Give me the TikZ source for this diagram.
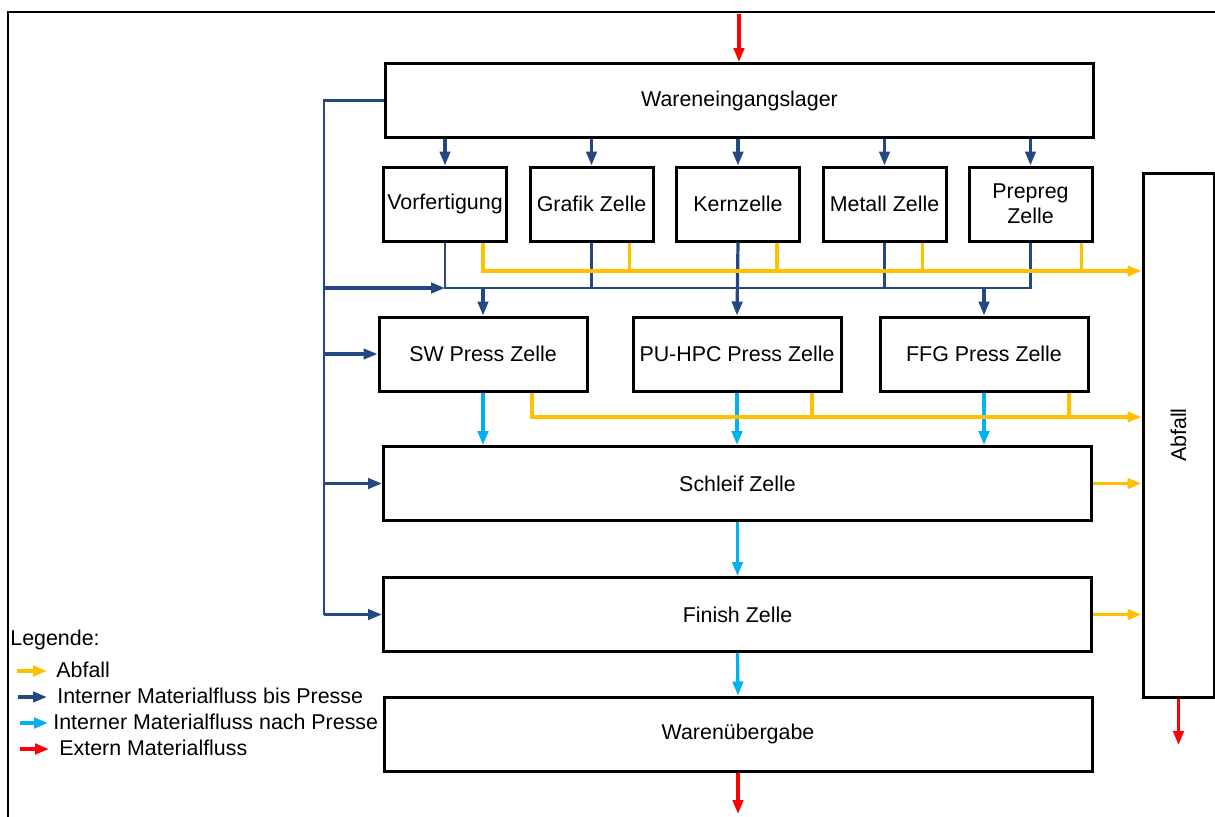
\documentclass[tikz,border=0pt]{standalone}
\usepackage{fontspec}
\setmainfont{Liberation Sans}
\usetikzlibrary{arrows.meta,calc}

\definecolor{abfallgelb}{RGB}{255,192,0}
\definecolor{dunkelblau}{RGB}{35,72,130}
\definecolor{hellblau}{RGB}{0,176,240}
\definecolor{extrot}{RGB}{255,0,0}

\begin{document}
\begin{tikzpicture}[x=.5pt,y=-.5pt,
    font=\fontsize{10.7}{12.6}\selectfont,
    zelle/.style={draw,line width=1.5pt,inner sep=1pt,align=center,minimum height=37pt},
    klein/.style={zelle,minimum width=61.5pt},
    presse/.style={zelle,minimum width=104pt},
    breit/.style={zelle,minimum width=354pt},
    spitze/.style={-{Triangle[length=7pt,width=5.2pt]}},
    bus/.style={dunkelblau,line width=1.2pt},
    bis/.style={dunkelblau,line width=1.6pt,spitze},
    nach/.style={hellblau,line width=1.6pt,spitze},
    abfall/.style={abfallgelb,line width=1.6pt},
    abfallpfeil/.style={abfall,spitze},
    extern/.style={extrot,line width=1.6pt,spitze},
    legtext/.style={anchor=base west,inner sep=0pt}]

  \useasboundingbox (0,0) rectangle (1215,816);
  \draw[line width=1pt] (1220,12) -- (8,12) -- (8,820);

  % Zellen
  \node[breit] (WE) at (739.5,100.5) {Wareneingangslager};
  \node[klein] (VF) at (445,204) {Vorfertigung};
  \node[klein] (GZ) at (591.5,204) {Grafik Zelle};
  \node[klein] (KZ) at (738,204) {Kernzelle};
  \node[klein] (MZ) at (884.5,204) {Metall Zelle};
  \node[klein] (PZ) at (1030.5,204) {Prepreg\\Zelle};
  \node[presse] (SW) at (483,354) {SW Press Zelle};
  \node[presse] (PU) at (737,354) {PU-HPC Press Zelle};
  \node[presse] (FFG) at (984,354) {FFG Press Zelle};
  \node[breit] (SZ) at (737.5,483.5) {Schleif Zelle};
  \node[breit] (FZ) at (737.5,614.5) {Finish Zelle};
  \node[breit] (WU) at (738,734) {Warenübergabe};
  \node[zelle,minimum width=35.5pt,minimum height=262pt] (AB) at (1178.5,435) {};
  \node[rotate=90] (ABtext) at (AB.center) {Abfall};

  \coordinate (ein) at (739,14);
  \coordinate (aus) at (738,814);
  \coordinate (weg) at (1180,745);
  \coordinate (links) at (324,0);
  \coordinate (sammel) at (0,288);
  \coordinate (ab1) at (0,271);
  \coordinate (ab2) at (0,417);

  % extern
  \draw[extern] (ein) -- (ein |- WE.north);
  \draw[extern] (WU.south) -- (aus);
  \draw[extern] (AB.south) -- (AB.south |- weg);

  % intern bis Presse
  \foreach \z in {VF,GZ,KZ,MZ,PZ}
    \draw[bis] (WE.south -| \z.north) -- (\z.north);
  \draw[bus] (WE.west) -| (links |- FZ.west);
  \draw[bis] (links |- sammel) -- (VF.south |- sammel);
  \draw[bis] (links |- SW.west) -- (SW.west);
  \draw[bis] (links |- SZ.west) -- (SZ.west);
  \draw[bis] (links |- FZ.west) -- (FZ.west);
  \draw[bus] (VF.south) |- (PZ.south |- sammel) -- (PZ.south);
  \foreach \z in {GZ,MZ}
    \draw[bus] (\z.south) -- (\z.south |- sammel);
  \draw[bis] (KZ.south) -- (PU.north);
  \draw[bis] (SW.north |- sammel) -- (SW.north);
  \draw[bis] (FFG.north |- sammel) -- (FFG.north);

  % intern nach Presse
  \foreach \z in {SW,PU,FFG}
    \draw[nach] (\z.south) -- (\z.south |- SZ.north);
  \draw[nach] (SZ.south) -- (FZ.north);
  \draw[nach] (FZ.south) -- (WU.north);

  % Abfall
  \draw[abfallpfeil] ($(VF.south)+(38,0)$) |- (AB.west |- ab1);
  \foreach \z/\dx in {GZ/38,KZ/39,MZ/38,PZ/51}
    \draw[abfall] ($(\z.south)+(\dx,0)$) coordinate (a) -- (a |- ab1);
  \draw[abfallpfeil] ($(SW.south)+(49,0)$) |- (AB.west |- ab2);
  \foreach \z/\dx in {PU/75,FFG/85}
    \draw[abfall] ($(\z.south)+(\dx,0)$) coordinate (a) -- (a |- ab2);
  \draw[abfallpfeil] (SZ.east) -- (SZ.east -| AB.west);
  \draw[abfallpfeil] (FZ.east) -- (FZ.east -| AB.west);

  % Legende
  \node[legtext] (LG) at (10,645) {Legende:};
  \node[legtext] (L1) at (56,677) {Abfall};
  \node[legtext] (L2) at (57,703) {Interner Materialfluss bis Presse};
  \node[legtext] (L3) at (53,729) {Interner Materialfluss nach Presse};
  \node[legtext] (L4) at (59,755) {Extern Materialfluss};
  \coordinate (p1) at (17,671);
  \coordinate (p2) at (18,697);
  \coordinate (p3) at (20,723);
  \coordinate (p4) at (20,749);
  \draw[abfallpfeil,line width=2pt] (p1) -- ([xshift=-4.5pt]L1.west |- p1);
  \draw[bis,line width=2pt] (p2) -- ([xshift=-5pt]L2.west |- p2);
  \draw[nach,line width=2pt] (p3) -- ([xshift=-2.5pt]L3.west |- p3);
  \draw[extern,line width=2pt] (p4) -- ([xshift=-5pt]L4.west |- p4);
\end{tikzpicture}
\end{document}
